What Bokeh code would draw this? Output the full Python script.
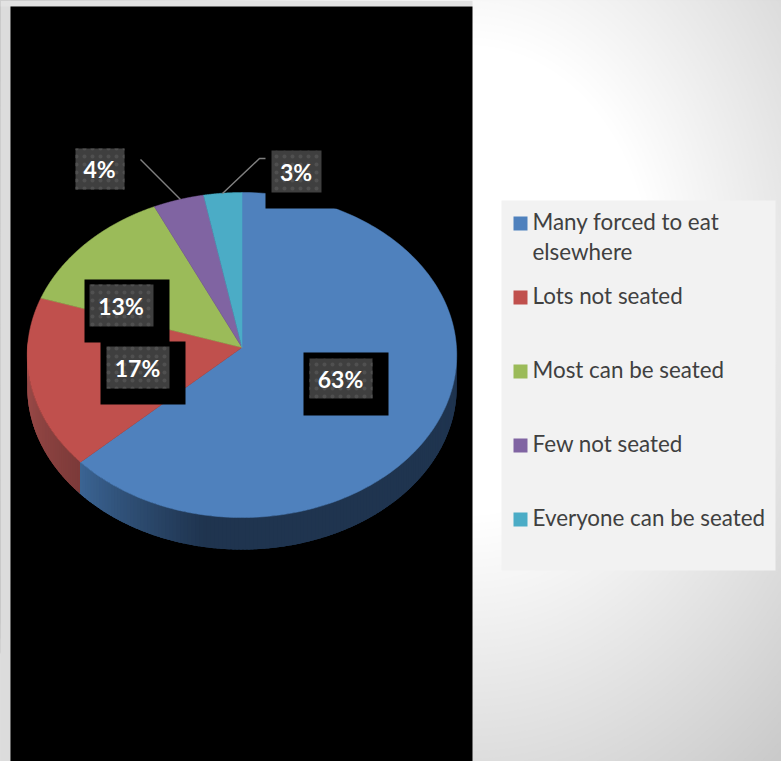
import numpy as np
from bokeh.plotting import figure
from bokeh.models import Range1d
from bokeh.core.properties import value
from bokeh.embed import file_html
from bokeh.resources import INLINE

# ---- data ----
categories = ["Many forced to eat elsewhere", "Lots not seated", "Most can be seated",
              "Few not seated", "Everyone can be seated"]
shares = [63, 17, 13, 4, 3]
labels = ["63%", "17%", "13%", "4%", "3%"]
colors = ["#4F81BD", "#C0504D", "#9BBB59", "#8064A2", "#4BACC6"]
legend_lines = [["Many forced to eat", "elsewhere"], ["Lots not seated"], ["Most can be seated"],
                ["Few not seated"], ["Everyone can be seated"]]

# ---- layout (reference pixel coordinates) ----
W, H = 781, 761
CX, CY, RX, RY, PERSP, DEPTH = 241.5, 347.0, 214.5, 162.2, 0.0462, 32.0
FONT = "Lato"

p = figure(width=W, height=H, output_backend="svg", toolbar_location=None,
           x_range=Range1d(0, W), y_range=Range1d(H, 0),
           min_border=0, outline_line_color=None)
p.axis.visible = False
p.grid.visible = False
p.background_fill_color = "#BEBEBE"
p.border_fill_color = "#BEBEBE"

# page background gradient: nested ellipses, darkest first
grey_levels = list(range(190, 256))
p.ellipse(x=[470] * len(grey_levels), y=[280] * len(grey_levels),
          width=[2 * (200 + (255 - g) / .16) / 1.1 for g in grey_levels],
          height=[2 * (200 + (255 - g) / .16) / .85 for g in grey_levels],
          fill_color=["#%02x%02x%02x" % (g, g, g) for g in grey_levels], line_color=None)

# left strip, top strip and black panel
p.quad(left=[0], right=[10], top=[0], bottom=[H], fill_color="#DCDCDC", line_color=None)
p.quad(left=[0], right=[472], top=[0], bottom=[6], fill_color="#E2E2E2", line_color=None)
p.quad(left=[10], right=[472], top=[6], bottom=[H], fill_color="#000000", line_color=None)


def edge(theta):
    w = 1 + PERSP * np.cos(theta)
    return CX + RX * np.sin(theta) / w, CY - RY * np.cos(theta) / w


def mix(a, b, t):
    a = np.array([int(a[i:i + 2], 16) for i in (1, 3, 5)])
    b = np.array([int(b[i:i + 2], 16) for i in (1, 3, 5)])
    c = (a + (b - a) * t).round().astype(int)
    return "#%02x%02x%02x" % tuple(c)


# slice angles
fr = np.cumsum([0] + shares) / sum(shares) * 2 * np.pi

# side wall: thin strips, each overlapping the next
wall_x, wall_y, wall_c = [], [], []
bnd = np.degrees(fr[1])
for deg in np.arange(90, 272, 1.0):
    mid = deg + .5
    if mid < bnd:
        t = np.clip((mid - 190) / (bnd - 190), 0, 1)
        col = mix("#1F344F", "#3B6493", t)
    else:
        t = np.clip((mid - bnd) / (272 - bnd), 0, 1)
        col = mix("#7C3A39", "#A34F4C", t)
    ang = np.radians(np.linspace(deg, deg + 2.5, 5))
    ex, ey = edge(ang)
    wall_x.append(np.r_[ex, ex[::-1]].tolist())
    wall_y.append(np.r_[ey, ey[::-1] + DEPTH].tolist())
    wall_c.append(col)
p.patches(wall_x, wall_y, fill_color=wall_c, line_color=None)

# top face
px, py = [], []
for a, b in zip(fr[:-1], fr[1:]):
    th = np.linspace(a, b, 200)
    ex, ey = edge(th)
    px.append(np.r_[CX, ex].tolist())
    py.append(np.r_[CY, ey].tolist())
p.patches(px, py, fill_color=colors, line_color=colors, line_width=.5)

# leader lines
p.line([140, 180], [159, 199], line_color="#7F7F7F", line_width=1.5)
p.line([222, 259, 266], [193, 158, 158], line_color="#7F7F7F", line_width=1.5)

# black label plates
bx0 = [303, 100, 84, 265]
bx1 = [388, 185, 169, 336]
by0 = [352, 341, 279, 135]
by1 = [415, 404, 342, 208]
p.quad(left=bx0, right=bx1, top=by0, bottom=by1, fill_color="#000000", line_color=None)

# grey data labels
gx0 = [309, 106, 89, 75, 271]
gx1 = [372, 169, 153, 124, 321]
gy0 = [358, 346, 284, 148, 150]
gy1 = [398, 388, 326, 189, 192]
p.quad(left=gx0, right=gx1, top=gy0, bottom=gy1, fill_color="#3F3F3F", line_color=None,
       hatch_pattern="dot", hatch_color="#505050", hatch_scale=8, hatch_weight=1)
p.text(x=[(a + b) / 2 - .5 for a, b in zip(gx0, gx1)], y=[(a + b) / 2 for a, b in zip(gy0, gy1)],
       text=labels, text_color="#FFFFFF", text_font=value(FONT), text_font_style="bold",
       text_font_size="23px", text_align="center", text_baseline="middle")

# legend
p.quad(left=[501], right=[775], top=[200], bottom=[570], fill_color="#F2F2F2", line_color=None)
sw_y = [216, 290, 364, 438, 512]
p.quad(left=[513] * 5, right=[527] * 5, top=sw_y, bottom=[s + 14 for s in sw_y],
       fill_color=colors, line_color=None)
tx, ty, tt = [], [], []
for s, lines in zip(sw_y, legend_lines):
    for i, line in enumerate(lines):
        tx.append(532)
        ty.append(s + 5 + i * 30)
        tt.append(line)
p.text(x=tx, y=ty, text=tt, text_color="#404040", text_font=value(FONT), text_font_size="22.4px",
       text_align="left", text_baseline="middle")

open("out.html", "w").write(file_html(p, INLINE))
